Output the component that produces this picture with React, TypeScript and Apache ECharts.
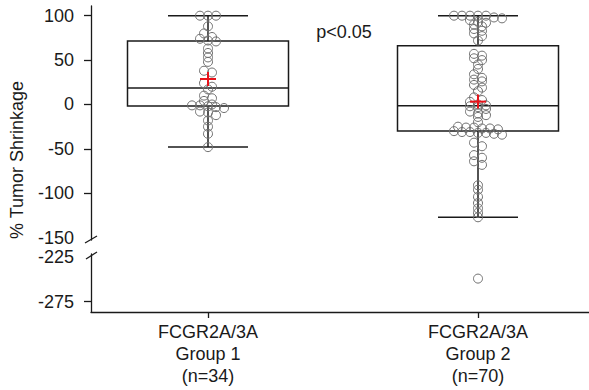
import React, { useEffect, useRef } from "react";
import * as echarts from "echarts";

// ---- data ----
const categories = ["FCGR2A/3A\nGroup 1\n(n=34)", "FCGR2A/3A\nGroup 2\n(n=70)"];
const groupPositions = [1, 2];

const group1Values = [
  100, 100, 100, 88, 80, 76, 74, 72, 71,
  63, 58, 53, 48, 38, 36, 24, 20,
  17, 10, 7, 4, 0, -1, -1, -2, -3, -4,
  -8, -9, -12, -18, -25, -33, -48,
];

const group2Values = [
  100, 100, 100, 100, 100, 98, 97, 95, 93, 92, 90, 88, 85, 83, 80, 77, 72,
  57, 55, 52, 50, 45, 40, 34, 30, 28, 26, 22, 19, 15, 8, 5, 3, 0, -1,
  -2, -3, -5, -8, -10, -12, -14, -20,
  -25, -26, -26, -27, -27, -28,
  -30, -31, -31, -32, -32, -33, -34,
  -43, -47, -57, -60, -64, -68, -91, -96, -104, -111, -117, -122, -127, -249,
];

// [lower whisker, Q1, median, Q3, upper whisker]
const boxStats = [
  [-48, -1.7, 18.6, 71.5, 100],
  [-127, -29.8, -1.4, 66.2, 100],
];

const upperLabels = [100, 50, 0, -50, -100, -150];
const upperTicks = [100, 50, 0, -50, -100];
const lowerLabels = [-225, -275];
const lowerTicks = [-275];
const pValueText = "p<0.05";
const yTitle = "% Tumor Shrinkage";

const FONT = "'Liberation Sans', Arial, Helvetica, sans-serif";
const INK = "#1a1a1a";
const BREAK_VALUE = -152;

function swarm(values: number[], x: number) {
  // Prism-like column scatter: bin nearby values, spread each bin horizontally
  const sorted = [...values].sort((a, b) => b - a);
  const out: number[][] = [];
  let i = 0;
  const binUnits = 4.5;
  const step = 8;
  while (i < sorted.length) {
    const start = sorted[i];
    let j = i;
    while (j < sorted.length && start - sorted[j] <= binUnits) j++;
    const n = j - i;
    for (let k = 0; k < n; k++) {
      out.push([x, sorted[i + k], (k - (n - 1) / 2) * step]);
    }
    i = j;
  }
  return out;
}

const mean = (a: number[]) => a.reduce((s, v) => s + v, 0) / a.length;

export default function App() {
  const ref = useRef<HTMLDivElement>(null);
  useEffect(() => {
    if (!ref.current) return;
    const chart = echarts.init(ref.current, null, { renderer: "svg" });

    const pts = [
      ...swarm(group1Values, groupPositions[0]),
      ...swarm(group2Values, groupPositions[1]),
    ];
    const upperPts = pts.filter((p) => p[1] >= BREAK_VALUE);
    const lowerPts = pts.filter((p) => p[1] < BREAK_VALUE);

    const circleItem = (params: any, api: any) => {
      const c = api.coord([api.value(0), api.value(1)]);
      return {
        type: "circle",
        shape: { cx: c[0] + api.value(2), cy: c[1], r: 4.5 },
        style: { fill: "none", stroke: "#707070", lineWidth: 1 },
      };
    };

    const xMin = 1 - 117 / 270;
    const xMax = 2 + 111 / 270;

    const yAxisCommon = {
      type: "value",
      splitLine: { show: false },
      axisLine: { show: true, onZero: false, lineStyle: { color: INK, width: 1.3 } },
      axisTick: { show: true, length: 7, lineStyle: { color: INK, width: 1.3 } },
      axisLabel: { color: INK, fontSize: 18, fontFamily: FONT, margin: 17 },
    };

    const option: any = {
      animation: false,
      backgroundColor: "#ffffff",
      textStyle: { fontFamily: FONT },
      grid: [
        { left: 91, top: 6, width: 498, height: 234 },
        { left: 91, top: 254, width: 498, height: 58 },
      ],
      xAxis: [
        { type: "value", gridIndex: 0, min: xMin, max: xMax, show: false },
        {
          type: "value",
          gridIndex: 1,
          min: xMin,
          max: xMax,
          splitLine: { show: false },
          axisLine: { show: true, onZero: false, lineStyle: { color: INK, width: 1.3 } },
          axisTick: {
            show: true,
            length: 6,
            customValues: groupPositions,
            lineStyle: { color: INK, width: 1.3 },
          },
          axisLabel: {
            customValues: groupPositions,
            formatter: (v: number) => categories[groupPositions.indexOf(v)] ?? "",
            color: INK,
            fontSize: 18,
            lineHeight: 22,
            fontFamily: FONT,
            margin: 9,
            align: "center",
          },
        },
      ],
      yAxis: [
        {
          ...yAxisCommon,
          gridIndex: 0,
          min: -152.6,
          max: 110.9,
          axisTick: { ...yAxisCommon.axisTick, customValues: upperTicks },
          axisLabel: { ...yAxisCommon.axisLabel, customValues: upperLabels },
        },
        {
          ...yAxisCommon,
          gridIndex: 1,
          min: -286.6,
          max: -221.3,
          axisTick: { ...yAxisCommon.axisTick, customValues: lowerTicks },
          axisLabel: { ...yAxisCommon.axisLabel, customValues: lowerLabels },
        },
      ],
      series: [
        {
          type: "custom",
          xAxisIndex: 0,
          yAxisIndex: 0,
          z: 2,
          data: boxStats.map((s, i) => [groupPositions[i], ...s]),
          encode: { x: 0, y: [1, 2, 3, 4, 5] },
          renderItem: (params: any, api: any) => {
            const x = api.value(0);
            const c = (v: number) => api.coord([x, v]);
            const [cx, yLo] = c(api.value(1));
            const yQ1 = c(api.value(2))[1];
            const yMed = c(api.value(3))[1];
            const yQ3 = c(api.value(4))[1];
            const yHi = c(api.value(5))[1];
            const hb = 80.5;
            const hc = 40;
            const st = { stroke: INK, lineWidth: 1.5, fill: "none" };
            return {
              type: "group",
              children: [
                { type: "rect", shape: { x: cx - hb, y: yQ3, width: hb * 2, height: yQ1 - yQ3 }, style: st },
                { type: "line", shape: { x1: cx - hb, y1: yMed, x2: cx + hb, y2: yMed }, style: st },
                { type: "line", shape: { x1: cx, y1: yQ3, x2: cx, y2: yHi }, style: st },
                { type: "line", shape: { x1: cx, y1: yQ1, x2: cx, y2: yLo }, style: st },
                { type: "line", shape: { x1: cx - hc, y1: yHi, x2: cx + hc, y2: yHi }, style: st },
                { type: "line", shape: { x1: cx - hc, y1: yLo, x2: cx + hc, y2: yLo }, style: st },
              ],
            };
          },
        },
        {
          type: "custom",
          xAxisIndex: 0,
          yAxisIndex: 0,
          z: 3,
          data: upperPts,
          encode: { x: 0, y: 1 },
          renderItem: circleItem,
        },
        {
          type: "custom",
          xAxisIndex: 1,
          yAxisIndex: 1,
          z: 3,
          data: lowerPts,
          encode: { x: 0, y: 1 },
          renderItem: circleItem,
        },
        {
          type: "custom",
          xAxisIndex: 0,
          yAxisIndex: 0,
          z: 4,
          data: [
            [groupPositions[0], mean(group1Values)],
            [groupPositions[1], mean(group2Values)],
          ],
          encode: { x: 0, y: 1 },
          renderItem: (params: any, api: any) => {
            const c = api.coord([api.value(0), api.value(1)]);
            const st = { stroke: "#e8141b", lineWidth: 2 };
            return {
              type: "group",
              children: [
                { type: "line", shape: { x1: c[0] - 8, y1: c[1], x2: c[0] + 8, y2: c[1] }, style: st },
                { type: "line", shape: { x1: c[0], y1: c[1] - 7, x2: c[0], y2: c[1] + 7 }, style: st },
              ],
            };
          },
        },
      ],
      graphic: [
        {
          type: "text",
          x: 17,
          y: 160,
          rotation: Math.PI / 2,
          style: {
            text: yTitle,
            fill: INK,
            font: `18px ${FONT}`,
            align: "center",
            verticalAlign: "middle",
          },
        },
        {
          type: "text",
          x: 344,
          y: 32,
          style: {
            text: pValueText,
            fill: INK,
            font: `18px ${FONT}`,
            align: "center",
            verticalAlign: "middle",
          },
        },
        {
          type: "line",
          shape: { x1: 85, y1: 243, x2: 97, y2: 236 },
          style: { stroke: INK, lineWidth: 1.3 },
        },
        {
          type: "line",
          shape: { x1: 86, y1: 259, x2: 97, y2: 252 },
          style: { stroke: INK, lineWidth: 1.3 },
        },
      ],
    };

    chart.setOption(option);
    return () => chart.dispose();
  }, []);

  return (
    <div
      ref={ref}
      style={{ position: "absolute", left: 0, top: 0, width: 589, height: 390, background: "#fff" }}
    />
  );
}
